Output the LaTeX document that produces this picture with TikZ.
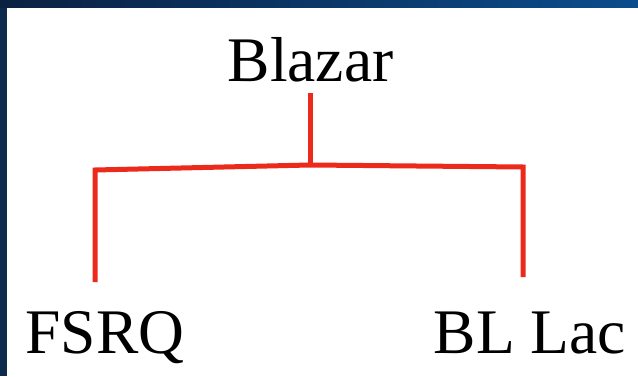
\documentclass[tikz,border=0pt]{standalone}
\usepackage{fontspec}
\setmainfont{Liberation Serif}
\definecolor{navyL}{HTML}{0B2142}
\definecolor{navyR}{HTML}{0B4C8C}
\definecolor{navyS}{HTML}{0C2A4B}
\definecolor{treered}{HTML}{EC2A1C}
\begin{document}
\begin{tikzpicture}[x=1pt,y=1pt,
  lbl/.style={font=\fontsize{63.5}{70}\selectfont, inner sep=0pt, anchor=base, text=black},
  branch/.style={draw=treered, line width=5pt, line join=miter}]
\useasboundingbox (0,0) rectangle (638,376);
\fill[white] (0,0) rectangle (638,376);
\shade[left color=navyL, right color=navyR] (0,368) rectangle (638,376);
\fill[navyS] (0,0) rectangle (7,368);
\node[lbl] (blazar) at (310.5,295) {Blazar};
\node[lbl] (fsrq) at (105,23) {FSRQ};
\node[lbl] (bllac) at (530,23) {BL Lac};
\coordinate (stemtop) at (310,283);
\coordinate (junc) at (310,211);
\coordinate (lc) at (95,206);
\coordinate (lb) at (95,94);
\coordinate (rc) at (523,209);
\coordinate (rb) at (523,99);
\draw[branch] (stemtop) -- (junc);
\draw[branch] (lb) -- (lc) -- (junc) -- (rc) -- (rb);
\end{tikzpicture}
\end{document}
